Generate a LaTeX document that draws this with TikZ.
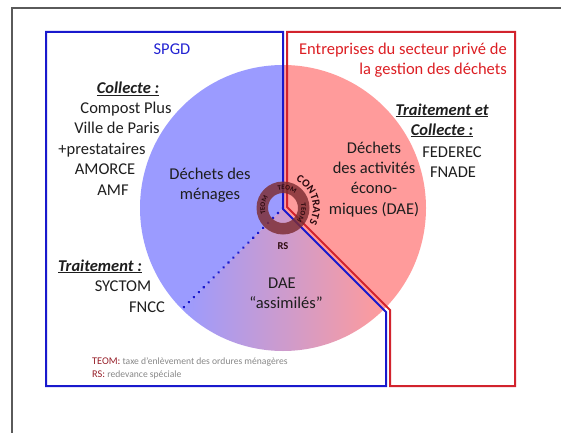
\documentclass[tikz,border=0pt]{standalone}
\usepackage{fontspec}
\setmainfont{Carlito}
\usetikzlibrary{decorations.text,calc}
\definecolor{secblue}{RGB}{155,155,255}
\definecolor{secpink}{RGB}{255,155,155}
\definecolor{boxblue}{RGB}{25,25,205}
\definecolor{boxred}{RGB}{210,35,45}
\definecolor{ringc}{RGB}{125,45,50}
\definecolor{ringtxt}{RGB}{45,10,15}
\definecolor{legred}{RGB}{150,30,40}
\definecolor{leggray}{RGB}{135,135,135}
\definecolor{titleblue}{RGB}{35,35,210}
\definecolor{titlered}{RGB}{220,30,35}
\definecolor{txt}{RGB}{30,30,30}
\definecolor{framec}{RGB}{90,90,90}
\begin{document}
\begin{tikzpicture}[x=1pt,y=1pt,
  main/.style={inner sep=0pt, anchor=base, text=txt, font=\fontsize{16.5}{20.5}\selectfont},
  head/.style={main, font=\fontsize{16.5}{20.5}\selectfont\bfseries\itshape},
  legend/.style={inner sep=0pt, anchor=base west, font=\fontsize{9.6}{11}\selectfont},
  boxline/.style={line width=2pt, line join=miter},
  dotline/.style={draw=boxblue, line width=2.8pt, line cap=round, dash pattern=on 0.1pt off 6.9pt},
  ringlabel/.style={decorate, decoration={text along path, text align=center, text color=ringtxt}},
]
\useasboundingbox (0,0) rectangle (561,432);
% outer frame
\draw[framec, line width=1.2pt] (12,-5) -- (12,424) -- (570,424);
\coordinate (C) at (283,224);
% circle sectors
\fill[secpink] (C) -- ++(-45:143) arc[start angle=-45, end angle=90, radius=143] -- cycle;
\fill[secblue] (C) -- ++(90:143) arc[start angle=90, end angle=225, radius=143] -- cycle;
\shade[left color=secblue, right color=secpink] (C) -- ++(225:143) arc[start angle=225, end angle=315, radius=143] -- cycle;
% dotted separator
\coordinate (D) at ($(C)+(225:143)$);
\draw[dotline] (C) -- (D);
% boxes
\draw[boxline, boxblue] (46,400) -- (283,400) -- (283,223) -- (386,120) -- (386,46) -- (46,46) -- cycle;
\draw[boxline, boxred] (287,400) -- (515,400) -- (515,46) -- (390,46) -- (390,122) -- (287,225) -- cycle;
% ring
\fill[ringc, opacity=0.82, even odd rule] (C) circle[radius=26.5] (C) circle[radius=15];
\path[ringlabel, decoration={text={|\fontsize{7}{7}\selectfont\bfseries|TEOM}}] ($(C)+(115:18.3)$) arc[start angle=115, end angle=41, radius=18.3];
\path[ringlabel, decoration={text={|\fontsize{7}{7}\selectfont\bfseries|TEOM}}] ($(C)+(208:18.3)$) arc[start angle=208, end angle=134, radius=18.3];
\path[ringlabel, decoration={text={|\fontsize{7}{7}\selectfont\bfseries|TEOM}}] ($(C)+(23:18.3)$) arc[start angle=23, end angle=-51, radius=18.3];
\path[ringlabel, decoration={text={|\fontsize{11}{11}\selectfont\bfseries|CONTRATS}}] ($(C)+(80:30)$) arc[start angle=80, end angle=-45, radius=30];
\node[inner sep=0pt, anchor=base, text=ringtxt, font=\fontsize{10.5}{11}\selectfont\bfseries] (rs) at (283,183) {RS};
% left texts
\node[main, text=titleblue] (spgd) at (172,377) {SPGD};
\node[head] (collh) at (128,338) {\underline{Collecte :}};
\node[main] (cp) at (126,319) {Compost Plus};
\node[main] (vp) at (117,298.5) {Ville de Paris};
\node[main] (pr) at (102,278) {+prestataires};
\node[main] (amorce) at (105,257.5) {AMORCE};
\node[main] (amf) at (113,237) {AMF};
\node[main] (dm1) at (210,253) {Déchets des};
\node[main] (dm2) at (210,233) {ménages};
\node[head] (traith) at (100,161) {\underline{Traitement :}};
\node[main] (syctom) at (123,141) {SYCTOM};
\node[main] (fncc) at (147,120) {FNCC};
% right texts
\node[main, anchor=base east, text=titlered] (rt1) at (507,377) {Entreprises du secteur privé de};
\node[main, anchor=base east, text=titlered] (rt2) at (507,357) {la gestion des déchets};
\node[head] (tch1) at (442,317) {\underline{Traitement et}};
\node[head] (tch2) at (442,297) {\underline{Collecte :}};
\node[main] (federec) at (452,275) {FEDEREC};
\node[main] (fnade) at (453,255) {FNADE};
\node[main] (dae1) at (374,279) {Déchets};
\node[main] (dae2) at (374,259) {des activités};
\node[main] (dae3) at (374,239) {écono-};
\node[main] (dae4) at (374,218) {miques (DAE)};
% bottom sector
\node[main] (as1) at (282,144) {DAE};
\node[main] (as2) at (286,124) {“assimilés”};
% legend
\node[legend] (leg1) at (92,68) {\textcolor{legred}{\fontsize{10.3}{11}\selectfont TEOM:} \textcolor{leggray}{taxe d’enlèvement des ordures ménagères}};
\node[legend] (leg2) at (92,55) {\textcolor{legred}{\fontsize{10.3}{11}\selectfont RS:} \textcolor{leggray}{redevance spéciale}};
\end{tikzpicture}
\end{document}
